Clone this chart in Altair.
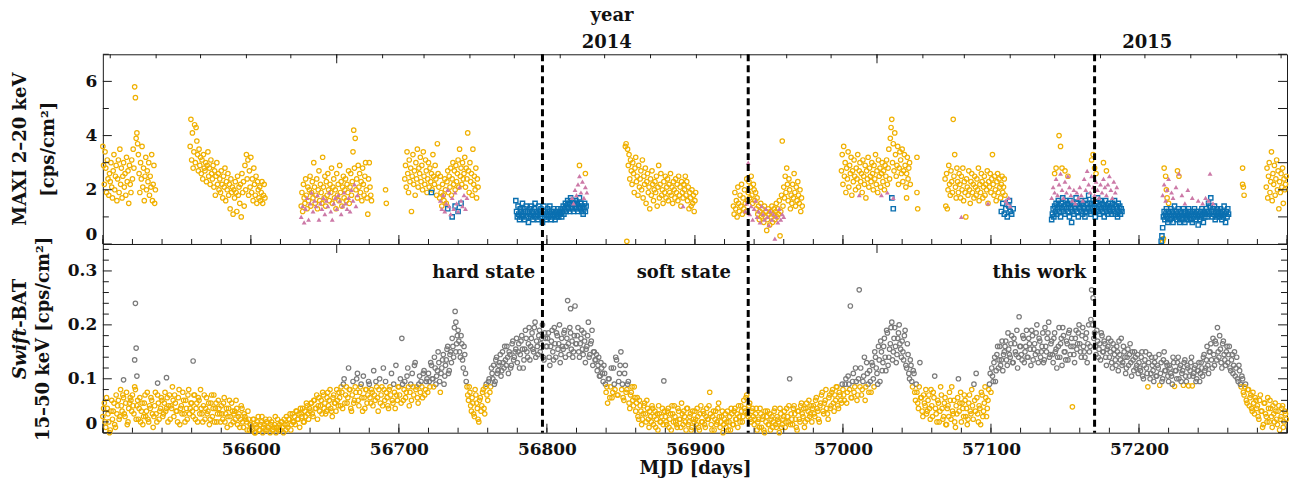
import altair as alt
import pandas as pd

# ---------------------------------------------------------------- styling
FONT = "DejaVu Serif"
FRAME = "#1a1a1a"
YELLOW = "#F0B000"
GREY = "#7A7A7A"
BLUE = "#0A6FB0"
PINK = "#CC79A7"

W = 1186          # plot width (both panels)
H_TOP = 190       # MAXI panel height
H_BOT = 189       # BAT panel height

# ---------------------------------------------------------------- axes / calendar
MJD_MIN, MJD_MAX = 56500, 57300
mjd_labels = [56600, 56700, 56800, 56900, 57000, 57100, 57200]
transitions = [56797, 56936, 57170]            # dashed markers
year_starts = [56658, 57023]                   # 2014-01-01, 2015-01-01
year_labels = ["2014", "2015"]
year_label_mjd = [56840.5, 57205.5]            # mid-year
month_starts = [56505, 56536, 56566, 56597, 56627, 56658, 56689, 56717, 56748,
                56778, 56809, 56839, 56870, 56901, 56931, 56962, 56992, 57023,
                57054, 57082, 57113, 57143, 57174, 57204, 57235, 57266, 57296]
maxi_ticks_major = [0, 2, 4, 6]
maxi_ticks_minor = [1, 3, 5, 7]
maxi_ticks_right = [0, 1, 2, 3, 4, 5, 6, 7]
bat_ticks_major = [0, 0.1, 0.2, 0.3]
bat_ticks_minor = [0.02, 0.04, 0.06, 0.08, 0.12, 0.14, 0.16, 0.18,
                   0.22, 0.24, 0.26, 0.28, 0.32, 0.34]
HARD_LEVEL = 0.09   # BAT rate separating hard (grey) from soft (yellow) days

# ---------------------------------------------------------------- MAXI 2-20 keV
# (start MJD, sampling step [d], rates in units of 0.1 cps/cm^2)
maxi_soft_segments = [
    (56500, 0.5, [36, 29, 22, 34, 28, 19, 31, 24, 18, 26, 23, 30, 21, 17, 27, 33, 20, 25, 29, 16,
                  24, 31, 19, 35, 22, 28, 17, 25, 30, 21, 26, 18, 32, 23, 27, 15, 29, 22, 19, 31,
                  24, 35, 28, 58, 54, 39, 41, 37, 33, 26, 19, 30, 24, 36, 21, 28, 16, 25, 32, 20,
                  27, 23, 30, 18, 25, 21, 33, 16, 22, 29, 15, 20]),
    (56559, 0.5, [36, 46, 31, 41, 28, 34, 44, 30, 43, 38, 33, 27, 35, 29, 32, 26, 31, 24, 33, 28,
                  27, 30, 23, 29, 34, 25, 28, 22, 31, 26, 24, 29, 21, 27, 18, 25, 30, 22, 26, 20,
                  24, 19, 27, 22, 17, 25, 21, 28, 16, 23, 20, 26, 18, 22, 13, 24, 19, 21, 11, 20,
                  17, 23, 19, 12, 25, 18, 21, 15, 22, 10, 26, 19, 23, 14, 29, 20, 33, 24, 31, 18,
                  27, 21, 32, 19, 24, 16, 28, 22, 18, 25, 15, 23, 20, 17, 21, 16, 19, 23, 15, 18, 22, 17]),
    (56634, 0.5, [14, 19, 12, 22, 17, 15, 24, 18, 13, 21, 16, 20, 25, 14, 19, 23, 17, 30, 21, 15,
                  18, 24, 13, 20, 27, 16, 22, 19, 15, 32, 21, 17, 25, 14, 23, 18, 26, 20, 16, 22,
                  19, 28, 15, 21, 24, 17, 20, 13, 26, 18, 22, 16, 29, 19, 23, 14, 21, 25, 17, 20,
                  24, 16, 22, 19, 27, 15, 21, 26, 18, 23, 34, 42, 28, 39, 20, 24, 17, 29, 21, 26,
                  19, 23, 16, 28, 22, 18, 25, 30, 20, 17, 11, 24, 30, 21, 18, 16]),
    (56704, 0.5, [24, 29, 21, 34, 26, 19, 31, 23, 28, 12, 25, 33, 22, 27, 18, 30, 24, 35, 21, 28,
                  26, 32, 23, 29, 20, 34, 25, 22, 31, 27, 19, 24, 30, 21, 28, 23, 26, 20, 33, 25,
                  22, 29, 24, 18, 37, 26, 21, 17, 25, 19, 14, 22, 18, 16, 24, 20, 15, 23, 27, 19,
                  25, 21, 28, 18, 24, 30, 22, 27, 20, 29, 23, 26, 31, 21, 35, 25, 28, 22, 30, 24,
                  26, 32, 21, 28, 24, 41, 27, 19, 30, 23, 26, 18, 35, 22, 25, 20, 28, 17, 24, 21]),
    (56853, 0.5, [36, 37, 1, 35, 29, 33, 24, 31, 27, 22, 30, 26, 19, 28, 32, 23, 25, 18, 29, 21,
                  24, 27, 20, 31, 17, 25, 22, 28, 15, 23, 26, 19, 21, 13, 24, 18, 27, 22, 16, 20,
                  23, 19, 25, 14, 21, 29, 17, 22, 26, 18, 20, 15, 23, 19, 25, 17, 21, 24, 16, 22,
                  19, 26, 18, 21, 15, 23, 20, 17, 24, 19, 22, 16, 25, 18, 21, 14, 23, 19, 17, 22,
                  20, 25, 18, 23, 16, 21, 13, 19, 17, 14, 20, 15, 18, 12, 16, 19]),
    (56926, 0.5, [14, 11, 19, 13, 16, 10, 21, 15, 12, 18, 14, 22, 11, 17, 13, 20, 15, 12, 24, 16,
                  19, 23, 17, 21, 25, 18, 15, 22, 20, 16, 19, 13, 17, 11, 14, 9, 12, 15, 10, 13,
                  11, 8, 14, 10, 12, 5, 9, 13, 11, 7, 12, 10, 14, 8, 11, 13, 9, 12, 15, 10,
                  13, 11, 16, 3, 12, 18, 38, 14, 21, 17, 25, 19, 28, 22, 16, 24, 20, 13, 18, 15,
                  22, 17, 26, 19, 14, 21, 16, 23, 18, 15, 20, 12, 17, 14]),
    (56999, 0.5, [27, 33, 22, 36, 25, 30, 19, 28, 24, 34, 21, 29, 26, 32, 18, 27, 23, 31, 25, 20,
                  28, 24, 33, 21, 27, 30, 23, 26, 19, 31, 25, 22, 29, 17, 27, 24, 32, 21, 28, 25,
                  23, 30, 26, 20, 29, 24, 33, 22, 27, 19, 31, 25, 28, 21, 26, 30, 23, 27, 20, 29,
                  25, 31, 22, 28, 35, 24, 39, 43, 46, 30, 37, 27, 41, 33, 25, 29, 36, 22, 28, 34,
                  31, 26, 35, 23, 27, 33, 29, 21, 26, 32, 24, 28, 30, 22]),
    (57069, 0.5, [24, 14, 26, 13, 20, 29, 22, 18, 27, 23, 19, 46, 25, 33, 21, 17, 28, 23, 19, 26,
                  22, 17, 25, 20, 28, 16, 23, 19, 10, 24, 21, 18, 27, 20, 15, 23, 26, 19, 22, 17,
                  25, 21, 18, 24, 20, 28, 16, 22, 19, 26, 23, 17, 21, 25, 18, 22, 20, 27, 15, 23,
                  21, 26, 19, 24, 33, 22, 18, 25, 20, 16, 23, 26, 19, 24, 21, 17, 22, 25, 19, 21, 24, 18]),
    (57286, 0.5, [21, 28, 17, 25, 30, 19, 23, 34, 16, 26, 22, 29, 18, 24, 31, 20, 27, 13, 23, 19,
                  26, 21, 28, 15, 24, 20, 22, 25]),
]
maxi_soft_extra_mjd = [56691, 56691.5, 56822, 56826, 57043, 57050, 57050, 57050.5,
                       57143, 57144, 57146, 57147, 57148, 57150, 57152, 57168, 57169, 57170,
                       57171, 57176, 57178, 57216, 57216.5, 57217, 57218, 57218.5, 57219, 57220,
                       57226, 57227, 57270, 57270, 57270.5, 57271]
maxi_soft_extra_val = [20, 15, 29, 26, 17, 32, 19, 13,
                       26, 28, 40, 36, 28, 27, 25, 31, 33, 28,
                       26, 30, 27, 1, 2, 28, 25, 20, 17, 15,
                       27, 25, 28, 22, 21, 18]

maxi_hard_segments = [
    (56779, 0.5, [16, 12, 10, 14, 11, 9, 13, 12, 10, 15, 11, 13, 9, 12, 14, 10, 12, 8, 11, 13,
                  10, 14, 12, 9, 11, 13, 15, 10, 12, 11, 9, 14, 12, 10, 13, 11, 8, 12, 14, 10,
                  12, 9, 11, 13, 10, 12, 14, 11, 9, 12, 10, 13, 11, 9, 12, 10, 11, 13, 10, 12,
                  11, 13, 10, 12, 14, 11, 13, 15, 12, 14, 16, 13, 15, 12, 17, 14, 13, 16, 12, 15,
                  14, 16, 13, 15, 12, 14, 17, 13, 15, 12, 14, 11, 13, 15, 12, 14]),
    (57141, 0.5, [9, 11, 13, 10, 14, 12, 15, 11, 13, 16, 12, 14, 10, 15, 13, 17, 12, 14, 11, 16,
                  13, 15, 12, 14, 10, 16, 13, 8, 12, 15, 11, 14, 13, 17, 12, 15, 10, 14, 13, 16,
                  12, 15, 11, 14, 13, 10, 16, 12, 15, 13, 18, 12, 14, 11, 15, 13, 16, 12, 14, 10,
                  15, 13, 17, 12, 14, 11, 16, 13, 15, 12, 14, 10, 13, 16, 12, 14, 11, 15, 13, 12,
                  14, 11, 15, 13, 12, 16, 11, 14, 13, 10, 15, 12, 14, 11, 13, 12]),
    (57215, 0.5, [1, 3, 6, 10, 12, 9, 11, 13, 10, 8, 12, 11, 9, 13, 10, 12, 8, 11, 14, 10,
                  12, 9, 11, 13, 10, 8, 12, 11, 9, 10, 13, 11, 8, 12, 10, 9, 11, 13, 10, 12,
                  9, 11, 8, 12, 10, 13, 11, 9, 12, 10, 7, 11, 9, 12, 10, 13, 11, 8, 12, 10,
                  11, 13, 10, 12, 15, 11, 14, 17, 12, 10, 13, 11, 14, 9, 12, 10, 13, 11, 12, 10,
                  13, 11, 9, 12, 10, 14, 11, 8, 12, 10, 13, 11]),
]
maxi_hard_extra_mjd = [56722, 56733, 56736, 56738, 56740, 56742, 57033, 57034,
                       57107, 57108, 57109, 57110, 57111, 57112, 57112.5, 57113, 57114, 57115]
maxi_hard_extra_val = [19, 13, 10, 14, 12, 15, 17, 13,
                       12, 15, 11, 13, 10, 14, 16, 12, 11, 13]

maxi_inter_segments = [
    (56634, 1, [10, 14, 8, 13, 17, 9, 15, 19, 12, 16, 14, 18, 9, 15, 13, 17, 11, 16, 14, 19,
                12, 9, 15, 17, 13, 18, 16, 11, 14, 19, 15, 13, 17, 12, 20, 16, 22, 14, 18]),
    (56728, 1, [16, 13, 18, 12, 15, 20, 14, 11, 17, 13, 19, 15, 12, 21, 16, 14, 18, 13, 17]),
    (56817, 1, [17, 15, 20, 18, 22, 25, 19, 23, 17, 21, 19]),
    (56934, 1, [12, 15, 30, 11, 14, 9, 13, 16, 10, 12, 8, 14, 11, 9, 13, 10, 7, 12, 9, 11,
                2, 10, 8, 13, 9, 11, 10]),
    (57141, 1, [17, 21, 19, 24, 18, 22, 26, 20, 17, 23, 19, 25, 21, 18, 16, 20, 15, 19, 17, 21,
                18, 16, 24, 20, 27, 22, 19, 25, 21, 18, 23, 20, 17, 22, 19, 24, 21, 18, 22, 25,
                20, 17, 23, 19, 21]),
]
maxi_inter_extra_mjd = [56892, 57011, 57026, 57030, 57034, 57080, 57098, 57110, 57111, 57112,
                        57113, 57216, 57217, 57218, 57219, 57220, 57222, 57223, 57225, 57227,
                        57229, 57231, 57233, 57236, 57240, 57243, 57245, 57247, 57248, 57250]
maxi_inter_extra_val = [14, 18, 18, 19, 17, 10, 15, 16, 15, 17,
                        14, 18, 22, 16, 20, 24, 19, 17, 21, 26,
                        18, 15, 20, 17, 16, 15, 17, 16, 26, 15]

# ---------------------------------------------------------------- Swift-BAT 15-50 keV
# rates in units of 0.001 cps/cm^2; rows of 20 days, first and second half of each day
bat_rows = [
    (56500, [30, 55, 10, 45, 20, 5, 60, 40, 15, 70, 50, 25, 80, 40, 65, 30, 75, 20, 55, 60]),
    (56520, [70, 35, 80, 50, 25, 65, 40, 15, 55, 30, 75, 20, 45, 60, 10, 50, 35, 70, 25, 45]),
    (56540, [60, 35, 75, 45, 20, 70, 50, 85, 30, 55, 40, 65, 15, 50, 75, 35, 60, 25, 80, 45]),
    (56560, [55, 30, 70, 45, 20, 60, 80, 35, 50, 25, 65, 40, 15, 55, 30, 70, 45, 20, 60, 35]),
    (56580, [50, 25, 65, 35, 10, 45, 30, 55, 20, 40, 60, 15, 35, 25, 45, 10, 30, 20, 40, 5]),
    (56600, [15, 5, 25, 0, 10, 30, 5, 20, 0, 15, 25, 5, 10, 0, 20, 5, 15, 0, 25, 10]),
    (56620, [5, 20, 0, 15, 30, 10, 25, 5, 35, 20, 15, 40, 25, 10, 35, 45, 20, 30, 50, 25]),
    (56640, [40, 55, 30, 60, 45, 25, 65, 50, 35, 70, 55, 40, 75, 60, 45, 30, 70, 55, 80, 50]),
    (56660, [65, 85, 45, 100, 70, 55, 120, 80, 40, 95, 60, 75, 110, 50, 85, 65, 105, 45, 80, 70]),
    (56680, [90, 55, 75, 115, 60, 85, 40, 100, 70, 50, 80, 95, 65, 45, 85, 110, 55, 75, 125, 60]),
    (56700, [85, 100, 175, 60, 95, 75, 120, 50, 90, 110, 70, 130, 85, 55, 105, 95, 65, 115, 80, 100]),
    (56720, [110, 85, 125, 100, 140, 90, 115, 130, 75, 120, 145, 105, 135, 160, 115, 150, 175, 140, 225, 165]),
    (56740, [190, 150, 180, 135, 160, 110, 85, 60, 75, 40, 55, 30, 70, 45, 20, 65, 50, 80, 35, 90]),
    (56760, [60, 100, 85, 110, 125, 95, 140, 115, 130, 105, 150, 120, 135, 160, 110, 145, 125, 170, 140, 155]),
    (56780, [130, 165, 145, 180, 120, 155, 175, 140, 195, 160, 185, 150, 205, 170, 145, 190, 165, 200, 135, 175]),
    (56800, [160, 185, 125, 170, 150, 195, 140, 180, 165, 130, 175, 155, 190, 160, 245, 145, 185, 170, 150, 235]),
    (56820, [165, 195, 140, 175, 155, 185, 130, 160, 205, 145, 170, 125, 150, 135, 115, 140, 105, 120, 95, 110]),
    (56840, [75, 55, 100, 85, 65, 120, 80, 135, 70, 110, 150, 90, 60, 125, 80, 95, 45, 75, 60, 85]),
    (56860, [40, 65, 25, 50, 15, 35, 55, 20, 45, 10, 30, 50, 15, 40, 25, 5, 35, 20, 45, 96]),
    (56880, [30, 15, 45, 25, 5, 35, 50, 20, 10, 40, 25, 55, 15, 30, 5, 45, 20, 35, 10, 25]),
    (56900, [40, 15, 30, 5, 50, 20, 35, 10, 45, 25, 75, 15, 30, 5, 40, 20, 55, 10, 30, 0]),
    (56920, [25, 10, 40, 20, 5, 35, 15, 45, 25, 10, 30, 50, 20, 60, 40, 70, 30, 55, 20, 45]),
    (56940, [15, 35, 5, 25, 45, 10, 30, 0, 20, 40, 15, 5, 30, 20, 45, 10, 25, 0, 35, 15]),
    (56960, [30, 10, 45, 20, 100, 35, 15, 50, 25, 5, 40, 20, 55, 30, 10, 45, 25, 60, 35, 20]),
    (56980, [50, 30, 65, 40, 20, 55, 75, 35, 60, 45, 25, 70, 50, 80, 40, 60, 85, 45, 70, 55]),
    (57000, [80, 60, 100, 75, 90, 235, 65, 110, 85, 95, 70, 265, 120, 80, 105, 60, 130, 90, 115, 75]),
    (57020, [125, 85, 140, 110, 160, 95, 150, 130, 175, 115, 185, 140, 165, 205, 150, 195, 130, 175, 200, 155]),
    (57040, [170, 135, 190, 120, 145, 100, 125, 85, 110, 60, 75, 45, 130, 65, 30, 55, 80, 40, 70, 25]),
    (57060, [50, 75, 105, 35, 60, 20, 85, 45, 30, 65, 15, 50, 75, 25, 40, 60, 10, 35, 100, 55]),
    (57080, [20, 45, 70, 30, 15, 55, 40, 80, 25, 60, 110, 35, 50, 15, 70, 40, 85, 30, 60, 90]),
    (57100, [75, 105, 130, 95, 145, 120, 160, 135, 115, 150, 170, 125, 155, 140, 180, 130, 165, 145, 120, 215]),
    (57120, [160, 135, 175, 150, 190, 140, 165, 125, 180, 155, 145, 200, 130, 170, 150, 185, 135, 160, 175, 205]),
    (57140, [145, 170, 130, 185, 155, 140, 195, 165, 125, 180, 150, 170, 135, 190, 160, 48, 145, 175, 155, 185]),
    (57160, [165, 140, 195, 150, 175, 130, 200, 160, 265, 250, 185, 145, 170, 155, 135, 180, 150, 165, 125, 160]),
    (57180, [140, 170, 120, 155, 135, 160, 115, 145, 175, 130, 150, 110, 140, 125, 165, 105, 135, 150, 120, 145]),
    (57200, [130, 115, 150, 100, 135, 120, 85, 145, 110, 125, 95, 140, 105, 120, 88, 130, 100, 150, 115, 125]),
    (57220, [95, 120, 105, 140, 86, 115, 130, 100, 125, 110, 88, 135, 95, 120, 105, 130, 87, 110, 125, 100]),
    (57240, [115, 95, 130, 105, 145, 120, 160, 110, 150, 135, 175, 125, 165, 195, 140, 155, 120, 170, 135, 150]),
    (57260, [130, 160, 115, 145, 125, 105, 140, 95, 115, 85, 100, 70, 90, 55, 80, 65, 45, 75, 35, 60]),
    (57280, [50, 25, 70, 40, 15, 55, 30, 65, 20, 45, 10, 35, 55, 25, 40, 5, 30, 50, 20, 35]),
]
bat_rows_late = [
    (56500.5, [45, 20, 65, 35, 0, 40, 25, 55, 10, 35, 60, 30, 50, 70, 35, 55, 15, 45, 65, 40]),
    (56520.5, [50, 85, 25, 60, 45, 20, 55, 30, 70, 40, 25, 50, 65, 35, 30, 75, 20, 55, 40, 65]),
    (56540.5, [30, 55, 40, 65, 50, 25, 45, 60, 70, 40, 20, 80, 45, 35, 60, 20, 45, 70, 35, 55]),
    (56560.5, [40, 70, 25, 55, 65, 35, 45, 20, 70, 45, 35, 55, 25, 70, 45, 20, 55, 35, 45, 20]),
    (56580.5, [35, 55, 20, 45, 30, 60, 15, 40, 35, 25, 45, 30, 10, 50, 20, 35, 25, 5, 25, 15]),
    (56600.5, [10, 25, 0, 15, 20, 5, 15, 30, 10, 5, 20, 10, 25, 15, 5, 10, 30, 10, 5, 15]),
    (56620.5, [20, 10, 25, 5, 15, 25, 35, 15, 20, 30, 40, 25, 35, 45, 30, 20, 40, 55, 35, 45]),
    (56640.5, [55, 35, 60, 45, 70, 50, 40, 60, 75, 45, 35, 65, 50, 80, 40, 65, 55, 40, 60, 75]),
    (56660.5, [50, 75, 90, 55, 85, 65, 80, 45, 70, 55, 85, 100, 60, 75, 90, 40, 65, 80, 55, 95]),
    (56680.5, [65, 80, 50, 70, 95, 65, 80, 55, 85, 120, 60, 75, 50, 80, 70, 60, 90, 45, 70, 85]),
    (56700.5, [70, 55, 90, 80, 65, 105, 85, 75, 60, 85, 125, 80, 65, 90, 75, 85, 110, 70, 95, 75]),
    (56720.5, [95, 130, 100, 85, 120, 105, 150, 95, 110, 135, 90, 125, 155, 110, 145, 130, 160, 195, 150, 180]),
    (56740.5, [170, 140, 165, 120, 145, 95, 70, 85, 50, 65, 35, 80, 55, 25, 60, 40, 75, 45, 85, 70]),
    (56760.5, [95, 75, 120, 100, 90, 135, 110, 125, 145, 115, 130, 160, 125, 140, 150, 120, 165, 135, 150, 175]),
    (56780.5, [150, 120, 170, 155, 135, 190, 150, 165, 135, 175, 155, 195, 140, 160, 180, 150, 175, 140, 185, 160]),
    (56800.5, [175, 140, 160, 190, 135, 165, 185, 155, 200, 145, 160, 185, 140, 175, 165, 195, 155, 140, 180, 165]),
    (56820.5, [180, 150, 165, 190, 145, 170, 155, 180, 140, 165, 190, 150, 135, 145, 125, 105, 130, 110, 125, 90]),
    (56840.5, [85, 100, 65, 120, 75, 90, 140, 70, 95, 125, 80, 65, 110, 75, 90, 55, 70, 85, 50, 65]),
    (56860.5, [55, 30, 60, 40, 25, 50, 35, 60, 25, 40, 20, 45, 30, 10, 35, 50, 20, 30, 15, 40]),
    (56880.5, [20, 40, 10, 35, 50, 20, 30, 15, 45, 25, 10, 35, 40, 20, 45, 15, 30, 5, 40, 20]),
    (56900.5, [25, 45, 10, 35, 20, 40, 15, 30, 25, 50, 35, 5, 40, 25, 15, 45, 30, 20, 40, 15]),
    (56920.5, [35, 20, 5, 30, 45, 15, 40, 25, 35, 50, 20, 40, 30, 45, 65, 35, 50, 25, 40, 30]),
    (56940.5, [25, 45, 20, 10, 35, 25, 5, 40, 30, 15, 35, 25, 10, 40, 15, 30, 20, 45, 10, 25]),
    (56960.5, [40, 20, 30, 50, 15, 25, 45, 35, 10, 40, 25, 50, 35, 45, 20, 55, 40, 30, 50, 45]),
    (56980.5, [35, 60, 45, 25, 50, 70, 40, 55, 80, 35, 65, 45, 75, 55, 70, 85, 50, 75, 60, 90]),
    (57000.5, [70, 90, 55, 105, 80, 65, 95, 75, 120, 60, 100, 85, 70, 95, 140, 85, 110, 75, 95, 130]),
    (57020.5, [100, 150, 120, 90, 135, 170, 115, 160, 140, 190, 125, 155, 195, 135, 175, 160, 145, 185, 165, 140]),
    (57040.5, [150, 180, 125, 165, 110, 135, 95, 115, 75, 90, 55, 85, 65, 40, 70, 50, 35, 60, 45, 80]),
    (57060.5, [30, 65, 45, 20, 55, 40, 70, 25, 55, 15, 45, 30, 60, 85, 35, 20, 50, 65, 40, 75]),
    (57080.5, [55, 30, 60, 45, 25, 70, 35, 50, 90, 40, 65, 20, 45, 75, 30, 55, 65, 45, 80, 110]),
    (57100.5, [120, 95, 140, 115, 160, 135, 125, 170, 145, 160, 135, 185, 145, 165, 130, 175, 150, 190, 140, 160]),
    (57120.5, [145, 180, 130, 160, 140, 175, 155, 190, 135, 165, 185, 150, 175, 140, 160, 130, 195, 150, 185, 140]),
    (57140.5, [165, 145, 175, 150, 120, 160, 140, 175, 195, 150, 135, 165, 185, 145, 175, 160, 130, 190, 165, 200]),
    (57160.5, [150, 180, 160, 140, 185, 165, 150, 210, 200, 175, 160, 190, 140, 165, 185, 150, 170, 140, 155, 175]),
    (57180.5, [150, 130, 165, 145, 125, 150, 170, 135, 125, 160, 140, 120, 155, 145, 130, 150, 115, 140, 125, 110]),
    (57200.5, [120, 140, 105, 125, 150, 110, 130, 100, 140, 115, 130, 105, 125, 145, 110, 95, 135, 115, 130, 105]),
    (57220.5, [125, 110, 90, 130, 115, 100, 140, 120, 95, 115, 130, 105, 125, 87, 115, 140, 105, 120, 95, 115]),
    (57240.5, [130, 110, 120, 140, 115, 135, 125, 150, 165, 120, 145, 170, 135, 150, 180, 130, 165, 145, 125, 160]),
    (57260.5, [145, 120, 135, 110, 150, 120, 100, 125, 90, 105, 75, 85, 60, 80, 50, 70, 40, 55, 65, 45]),
    (57280.5, [30, 60, 40, 10, 55, 35, 20, 45, 60, 30, 50, 20, 40, 15, 50, 25, 45, 10, 40, 25]),
]
bat_extra_mjd = [56514, 56521.5, 56522, 56522.5, 56523, 56537, 56543, 56561, 56738.5, 56816]
bat_extra_val = [98, 135, 240, 157, 105, 92, 102, 133, 205, 230]


# ---------------------------------------------------------------- tables
def expand(segments, scale):
    mjd, val = [], []
    for start, step, vals in segments:
        for i, v in enumerate(vals):
            mjd.append(start + step * i)
            val.append(v * scale)
    return mjd, val


def maxi_frame(segments, extra_mjd, extra_val):
    m, v = expand(segments, 0.1)
    m += extra_mjd
    v += [x * 0.1 for x in extra_val]
    return pd.DataFrame({"mjd": m, "rate": v})


maxi_soft = maxi_frame(maxi_soft_segments, maxi_soft_extra_mjd, maxi_soft_extra_val)
maxi_hard = maxi_frame(maxi_hard_segments, maxi_hard_extra_mjd, maxi_hard_extra_val)
maxi_inter = maxi_frame(maxi_inter_segments, maxi_inter_extra_mjd, maxi_inter_extra_val)

bat_m, bat_v = expand([(s, 1, vals) for s, vals in bat_rows + bat_rows_late], 0.001)
bat = pd.DataFrame({"mjd": bat_m + bat_extra_mjd,
                    "rate": bat_v + [x * 0.001 for x in bat_extra_val]})

xs = alt.Scale(domain=[MJD_MIN, MJD_MAX], nice=False, zero=False)
ys_top = alt.Scale(domain=[0, 7], nice=False, zero=False)
ys_bot = alt.Scale(domain=[0, 0.35], nice=False, zero=False)

# the zero label sits just above the panel's lower edge
ZERO_BASELINE = alt.condition("datum.value == 0", alt.value("bottom"), alt.value("middle"))

# one axis definition per channel and panel, shared by every layer
AX_TOP_X = None
AX_TOP_Y = alt.Axis(values=maxi_ticks_major, format="d", ticks=False, domain=False,
                    grid=False, labelPadding=6, labelBaseline=ZERO_BASELINE, title=None)
AX_BOT_X = alt.Axis(values=mjd_labels, format="d", ticks=False, domain=False, grid=False,
                    labelPadding=9, title="MJD [days]", titlePadding=2)
AX_BOT_Y = alt.Axis(values=bat_ticks_major, format="~g", ticks=False, domain=False,
                    grid=False, labelPadding=6, labelBaseline=ZERO_BASELINE, title=None)


# ---------------------------------------------------------------- helpers
def xticks(values, length, edge, height, axis):
    df = pd.DataFrame({"t": values})
    if edge == "bottom":
        y, y2 = alt.value(height - length), alt.value(height)
    else:
        y, y2 = alt.value(0), alt.value(length)
    return alt.Chart(df).mark_rule(color=FRAME, strokeWidth=1).encode(
        x=alt.X("t:Q", scale=xs, axis=axis), y=y, y2=y2)


def yticks(values, scale, length, edge, axis):
    df = pd.DataFrame({"t": values})
    if edge == "left":
        x, x2 = alt.value(0), alt.value(length)
    else:
        x, x2 = alt.value(W - length), alt.value(W)
    return alt.Chart(df).mark_rule(color=FRAME, strokeWidth=1).encode(
        y=alt.Y("t:Q", scale=scale, axis=axis), x=x, x2=x2)


def dashed(axis):
    return alt.Chart(pd.DataFrame({"mjd": transitions})).mark_rule(
        color="black", strokeWidth=3, strokeDash=[7, 4]).encode(
        x=alt.X("mjd:Q", scale=xs, axis=axis))


def label(text, x, y, angle=0, align="center", style="normal", size=18):
    return alt.Chart(pd.DataFrame({"s": [text]})).mark_text(
        font=FONT, fontSize=size, fontWeight="bold", fontStyle=style, color="#111",
        align=align, baseline="middle", angle=angle).encode(
        text="s:N", x=alt.value(x), y=alt.value(y))


x_minor = list(range(MJD_MIN, MJD_MAX + 1, 20))
x_major = list(range(MJD_MIN, MJD_MAX + 1, 100))

# ---------------------------------------------------------------- MAXI panel
soft_pts = alt.Chart(maxi_soft).mark_point(
    shape="circle", filled=False, size=20, strokeWidth=1.2, opacity=1, color=YELLOW).encode(
    x=alt.X("mjd:Q", scale=xs, axis=AX_TOP_X), y=alt.Y("rate:Q", scale=ys_top, axis=AX_TOP_Y))
hard_pts = alt.Chart(maxi_hard).mark_point(
    shape="square", filled=False, size=18, strokeWidth=1.4, opacity=1, color=BLUE).encode(
    x=alt.X("mjd:Q", scale=xs, axis=AX_TOP_X), y=alt.Y("rate:Q", scale=ys_top, axis=AX_TOP_Y))
inter_pts = alt.Chart(maxi_inter).mark_point(
    shape="triangle-up", filled=True, size=24, opacity=1, color=PINK).encode(
    x=alt.X("mjd:Q", scale=xs, axis=AX_TOP_X), y=alt.Y("rate:Q", scale=ys_top, axis=AX_TOP_Y))

years = alt.Chart(pd.DataFrame({"mjd": year_label_mjd, "s": year_labels})).mark_text(
    font=FONT, fontSize=18, fontWeight="bold", color="#111", baseline="middle").encode(
    x=alt.X("mjd:Q", scale=xs, axis=AX_TOP_X), y=alt.value(-11), text="s:N")

# invisible corner that fixes the outer margin of the figure
corner = alt.Chart(pd.DataFrame({"a": [0]})).mark_rule(opacity=0).encode(
    x=alt.value(-102), x2=alt.value(-101), y=alt.value(-53), y2=alt.value(-52))

top = alt.layer(
    soft_pts, hard_pts, inter_pts, dashed(AX_TOP_X),
    xticks(x_minor, 5, "bottom", H_TOP, AX_TOP_X), xticks(x_major, 9, "bottom", H_TOP, AX_TOP_X),
    xticks(month_starts, 4, "top", H_TOP, AX_TOP_X), xticks(year_starts, 9, "top", H_TOP, AX_TOP_X),
    yticks(maxi_ticks_major, ys_top, 9, "left", AX_TOP_Y),
    yticks(maxi_ticks_minor, ys_top, 6, "left", AX_TOP_Y),
    yticks(maxi_ticks_right, ys_top, 9, "right", AX_TOP_Y),
    years, label("year", 510, -38),
    label("MAXI 2–20 keV", -82, 95, angle=270),
    label("[cps/cm²]", -54, 95, angle=270),
    corner,
).properties(width=W, height=H_TOP)

# ---------------------------------------------------------------- BAT panel
bat_pts = alt.Chart(bat).mark_point(
    shape="circle", filled=False, size=20, strokeWidth=1.2, opacity=1).encode(
    x=alt.X("mjd:Q", scale=xs, axis=AX_BOT_X),
    y=alt.Y("rate:Q", scale=ys_bot, axis=AX_BOT_Y),
    color=alt.condition(f"datum.rate >= {HARD_LEVEL}", alt.value(GREY), alt.value(YELLOW)))

bottom = alt.layer(
    bat_pts, dashed(AX_BOT_X),
    xticks(x_minor, 5, "bottom", H_BOT, AX_BOT_X), xticks(x_major, 9, "bottom", H_BOT, AX_BOT_X),
    xticks(year_starts, 9, "top", H_BOT, AX_BOT_X),
    yticks(bat_ticks_major, ys_bot, 9, "left", AX_BOT_Y),
    yticks(bat_ticks_minor, ys_bot, 6, "left", AX_BOT_Y),
    yticks(bat_ticks_major, ys_bot, 9, "right", AX_BOT_Y),
    yticks(bat_ticks_minor, ys_bot, 6, "right", AX_BOT_Y),
    label("hard state", 433, 29, align="right"),
    label("soft state", 629, 29, align="right"),
    label("this work", 985, 29, align="right"),
    label("Swift", -82, 84, angle=270, align="right", style="italic"),
    label("-BAT", -82, 84, angle=270, align="left"),
    label("15–50 keV [cps/cm²]", -59, 95, angle=270),
).properties(width=W, height=H_BOT)

chart = alt.vconcat(top, bottom, spacing=0, bounds="flush").properties(
    padding=0
).configure_view(
    stroke=FRAME, strokeWidth=1
).configure_axis(
    labelFont=FONT, labelFontSize=17, labelFontWeight="bold", labelColor="#111",
    titleFont=FONT, titleFontSize=18, titleFontWeight="bold", titleColor="#111"
)

chart.save("out.html", embed_options={"renderer": "svg", "actions": False})
